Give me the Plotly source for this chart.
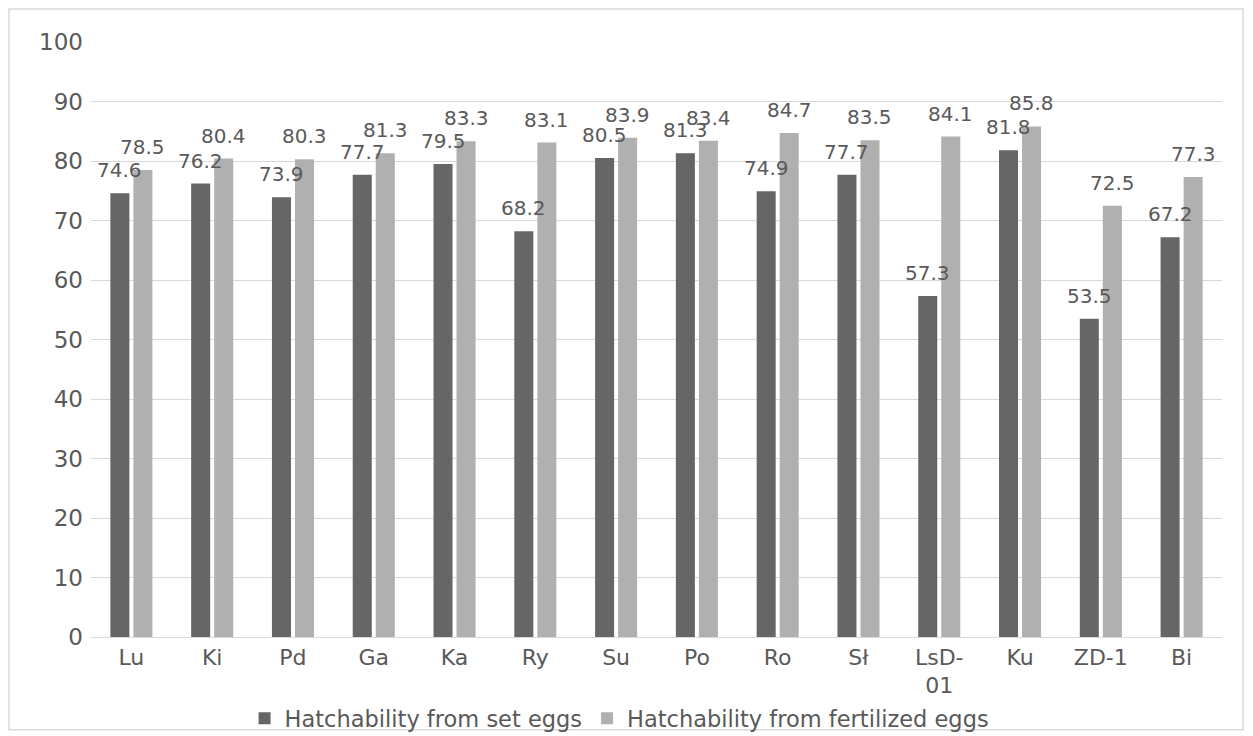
import plotly.graph_objects as go

categories = ["Lu", "Ki", "Pd", "Ga", "Ka", "Ry", "Su", "Po", "Ro", "Sł", "LsD-<br>01", "Ku", "ZD-1", "Bi"]
set_eggs = [74.6, 76.2, 73.9, 77.7, 79.5, 68.2, 80.5, 81.3, 74.9, 77.7, 57.3, 81.8, 53.5, 67.2]
fert_eggs = [78.5, 80.4, 80.3, 81.3, 83.3, 83.1, 83.9, 83.4, 84.7, 83.5, 84.1, 85.8, 72.5, 77.3]
y_ticks = [0, 10, 20, 30, 40, 50, 60, 70, 80, 90, 100]
series_names = ["Hatchability from set eggs", "Hatchability from fertilized eggs"]
series_colors = ["#666666", "#b0b0b0"]

font_color = "#595959"
fig = go.Figure()
for name, vals, col in zip(series_names, [set_eggs, fert_eggs], series_colors):
    fig.add_trace(go.Bar(name=name, x=categories, y=vals, marker_color=col,
                         marker_line_width=0))

# data labels centred over each bar
for vals, shift in [(set_eggs, -11.5), (fert_eggs, 11.5)]:
    for c, v in zip(categories, vals):
        fig.add_annotation(x=c, y=v, text=f"{v:.1f}", showarrow=False,
                           xshift=shift, yshift=9, yanchor="bottom", xanchor="center",
                           font=dict(family="DejaVu Sans", size=20, color=font_color))

# page body adds an 8px offset; figure size/margins compensate for it
fig.update_layout(
    width=1245, height=728,
    margin=dict(l=83, r=31, t=34, b=99, autoexpand=False),
    paper_bgcolor="white", plot_bgcolor="white",
    font=dict(family="DejaVu Sans", size=22, color=font_color),
    barmode="group", bargap=0.43, bargroupgap=0.174,
    showlegend=True,
    legend=dict(orientation="h", x=0.1358, xanchor="left", y=-0.137, yanchor="middle",
                bgcolor="rgba(0,0,0,0)",
                font=dict(size=22.5, color=font_color), itemwidth=30, traceorder="normal"),
)
fig.update_yaxes(range=[0, 100], tickvals=y_ticks, showgrid=True, gridcolor="#d9d9d9",
                 gridwidth=1.3, zeroline=False, showline=False, ticks="",
                 tickfont=dict(size=23, color=font_color), ticklabelstandoff=7)
fig.update_xaxes(showline=True, linecolor="#d9d9d9", linewidth=1.3, ticks="",
                 tickfont=dict(size=22, color=font_color))
fig.add_shape(type="rect", xref="paper", yref="paper",
              x0=-0.0725, x1=1.0186, y0=-0.156, y1=1.0555,
              line=dict(color="#d9d9d9", width=1.5), layer="below")
fig.write_html("out.html")
